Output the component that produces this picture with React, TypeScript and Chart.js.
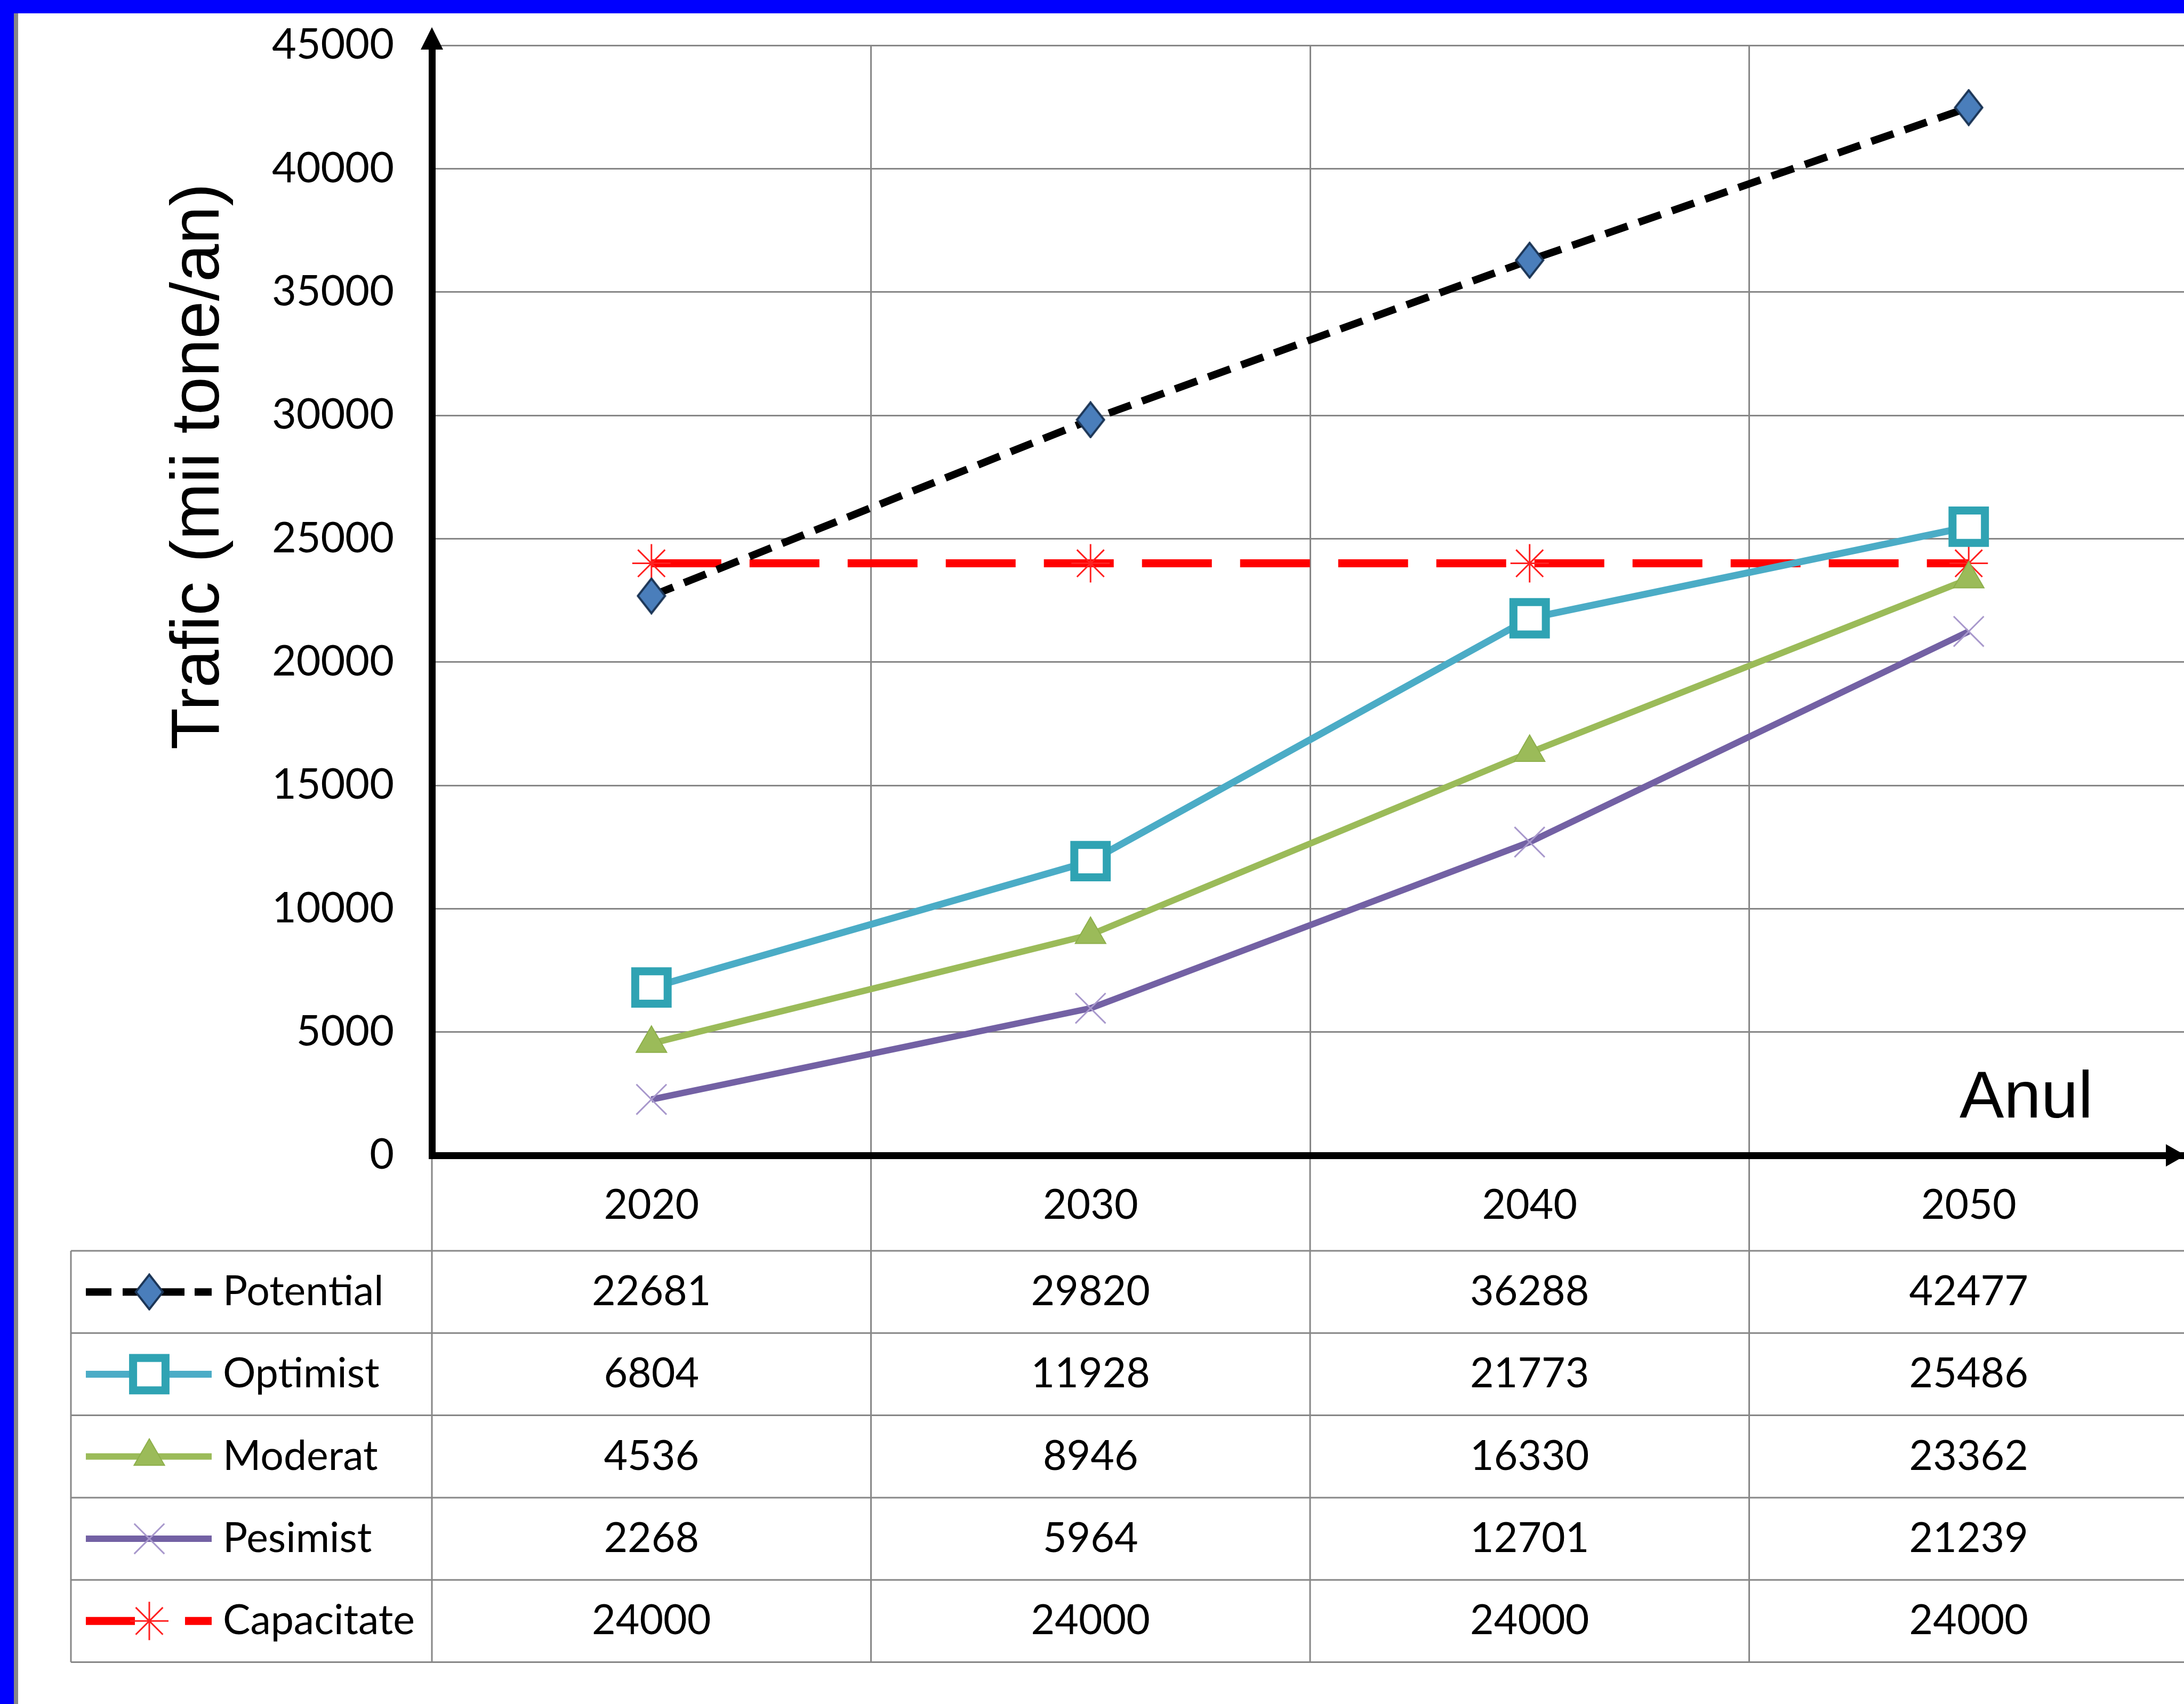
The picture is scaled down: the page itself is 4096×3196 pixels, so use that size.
import React, { useEffect, useRef } from 'react';
import { Chart, registerables } from 'chart.js';
import { drawPoint } from 'chart.js/helpers';

Chart.register(...registerables);

// ---------------- data ----------------
const years = ['2020', '2030', '2040', '2050'];
const potential = [22681, 29820, 36288, 42477];
const optimist = [6804, 11928, 21773, 25486];
const moderat = [4536, 8946, 16330, 23362];
const pesimist = [2268, 5964, 12701, 21239];
const capacitate = [24000, 24000, 24000, 24000];
const seriesNames = ['Potential', 'Optimist', 'Moderat', 'Pesimist', 'Capacitate'];
const yTicks = [0, 5000, 10000, 15000, 20000, 25000, 30000, 35000, 40000, 45000];
const yTitle = 'Trafic (mii tone/an)';
const xTitle = 'Anul';

// ---------------- layout / style ----------------
const W = 4096;
const H = 3196;
const CANVAS_W = 4104;
const AREA_LEFT = 810;
const AREA_TOP = 85;
const AREA_BOTTOM = 2167;
const GRID = '#878787';
const TICK_FONT = 'Lato';
const TITLE_FONT = '"Liberation Sans", Arial, sans-serif';
const TABLE_LEFT = 133;
const TABLE_TOP_OFF = 179;
const ROW_H = 154.3;
const LEG_X0 = 161;
const LEG_X1 = 397;
const LEG_MARK = 280;
const LEG_TEXT = 418;

function makeDiamond(): HTMLCanvasElement {
  const c = document.createElement('canvas');
  const w = 56;
  const h = 70;
  c.width = w;
  c.height = h;
  const g = c.getContext('2d')!;
  g.beginPath();
  g.moveTo(w / 2, 2.5);
  g.lineTo(w - 2.5, h / 2);
  g.lineTo(w / 2, h - 2.5);
  g.lineTo(2.5, h / 2);
  g.closePath();
  g.fillStyle = '#4A7EBB';
  g.fill();
  g.lineWidth = 4;
  g.strokeStyle = '#1B3556';
  g.stroke();
  return c;
}

const legendSegments: number[][][] = [
  [[161, 209], [230, 346], [365, 397]],
  [[LEG_X0, LEG_X1]],
  [[LEG_X0, LEG_X1]],
  [[LEG_X0, LEG_X1]],
  [[161, 253], [347, 397]],
];

const tablePlugin = {
  id: 'tableAndAxes',
  afterDraw(chart: any) {
    const { ctx, chartArea: ca } = chart;
    const xs = chart.scales.x;
    const half = (xs.getPixelForValue(1) - xs.getPixelForValue(0)) / 2;
    const top = ca.bottom + TABLE_TOP_OFF;
    const bottom = top + ROW_H * seriesNames.length;
    const seriesData = [potential, optimist, moderat, pesimist, capacitate];
    ctx.save();

    // table grid
    ctx.strokeStyle = GRID;
    ctx.lineWidth = 3;
    ctx.beginPath();
    const bounds = years.map((_, i) => xs.getPixelForValue(i) - half);
    bounds.push(xs.getPixelForValue(years.length - 1) + half);
    bounds.forEach((x) => {
      ctx.moveTo(x, ca.bottom + 7);
      ctx.lineTo(x, bottom);
    });
    for (let k = 0; k <= seriesNames.length; k++) {
      const y = top + k * ROW_H;
      ctx.moveTo(TABLE_LEFT, y);
      ctx.lineTo(chart.width, y);
    }
    ctx.moveTo(TABLE_LEFT, top);
    ctx.lineTo(TABLE_LEFT, bottom);
    ctx.stroke();

    // legend keys + values
    seriesNames.forEach((name, i) => {
      const ds = chart.data.datasets[i];
      const cy = top + ROW_H * (i + 0.5);
      ctx.strokeStyle = ds.borderColor;
      ctx.lineWidth = ds.borderWidth;
      ctx.lineCap = 'butt';
      ctx.beginPath();
      legendSegments[i].forEach(([a, b]) => {
        ctx.moveTo(a, cy);
        ctx.lineTo(b, cy);
      });
      ctx.stroke();
      ctx.fillStyle = ds.pointBackgroundColor || ds.borderColor;
      ctx.strokeStyle = ds.pointBorderColor || ds.borderColor;
      ctx.lineWidth = ds.pointBorderWidth || 1;
      drawPoint(ctx, {
        pointStyle: ds.pointStyle,
        radius: ds.pointRadius,
        rotation: 0,
        borderWidth: ds.pointBorderWidth || 1,
      } as any, LEG_MARK, cy);

      ctx.fillStyle = '#000';
      ctx.font = `77px ${TICK_FONT}`;
      ctx.textBaseline = 'middle';
      ctx.textAlign = 'left';
      ctx.fillText(name, LEG_TEXT, cy);
      ctx.textAlign = 'center';
      seriesData[i].forEach((v, j) => {
        ctx.fillText(String(v), xs.getPixelForValue(j), cy);
      });
    });

    // axis arrow heads
    ctx.fillStyle = '#000';
    ctx.beginPath();
    ctx.moveTo(4062, ca.bottom - 21);
    ctx.lineTo(4099, ca.bottom);
    ctx.lineTo(4062, ca.bottom + 21);
    ctx.closePath();
    ctx.fill();
    ctx.beginPath();
    ctx.moveTo(ca.left - 21, 93);
    ctx.lineTo(ca.left, 51);
    ctx.lineTo(ca.left + 21, 93);
    ctx.closePath();
    ctx.fill();
    if (ca.top > 88) ctx.fillRect(ca.left - 6.5, 88, 13, ca.top - 86);

    // axis titles
    ctx.fillStyle = '#000';
    ctx.font = `128px ${TITLE_FONT}`;
    ctx.textBaseline = 'alphabetic';
    ctx.textAlign = 'center';
    ctx.save();
    ctx.translate(410, 875);
    ctx.rotate(-Math.PI / 2);
    ctx.fillText(yTitle, 0, 0);
    ctx.restore();
    ctx.font = `125px ${TITLE_FONT}`;
    ctx.textAlign = 'left';
    ctx.fillText(xTitle, 3675, 2096);

    ctx.restore();
  },
};

export default function App() {
  const ref = useRef<HTMLCanvasElement | null>(null);

  useEffect(() => {
    let chart: Chart | null = null;
    let cancelled = false;
    const build = () => {
      if (cancelled || !ref.current) return;
      const diamond = makeDiamond();
      chart = new Chart(ref.current, {
        type: 'line',
        data: {
          labels: years,
          datasets: [
            {
              label: seriesNames[0],
              data: potential,
              borderColor: '#000000',
              borderWidth: 14,
              borderDash: [44, 22],
              pointStyle: diamond as any,
              pointRadius: 28,
              pointBackgroundColor: '#4A7EBB',
              pointBorderColor: '#1B3556',
              pointBorderWidth: 1,
            },
            {
              label: seriesNames[1],
              data: optimist,
              borderColor: '#4BACC6',
              borderWidth: 13,
              pointStyle: 'rect',
              pointRadius: 43,
              pointBackgroundColor: '#FFFFFF',
              pointBorderColor: '#2FA3B3',
              pointBorderWidth: 15,
            },
            {
              label: seriesNames[2],
              data: moderat,
              borderColor: '#9BBB59',
              borderWidth: 12,
              pointStyle: 'triangle',
              pointRadius: 33,
              pointBackgroundColor: '#9BBB59',
              pointBorderColor: '#8DAF4A',
              pointBorderWidth: 2,
            },
            {
              label: seriesNames[3],
              data: pesimist,
              borderColor: '#7361A4',
              borderWidth: 12,
              pointStyle: 'crossRot',
              pointRadius: 40,
              pointBackgroundColor: '#A898CC',
              pointBorderColor: '#A898CC',
              pointBorderWidth: 3,
            },
            {
              label: seriesNames[4],
              data: capacitate,
              borderColor: '#FF0000',
              borderWidth: 15,
              borderDash: [131, 53],
              pointStyle: 'star',
              pointRadius: 36,
              pointBackgroundColor: '#FF2020',
              pointBorderColor: '#FF2020',
              pointBorderWidth: 3,
            },
          ],
        },
        options: {
          responsive: false,
          animation: false,
          devicePixelRatio: 1,
          layout: {
            autoPadding: false,
            padding: { top: AREA_TOP, left: 0, right: 0, bottom: 0 },
          },
          plugins: {
            legend: { display: false },
            title: { display: false },
            tooltip: { enabled: false },
          },
          scales: {
            x: {
              type: 'category',
              offset: true,
              grid: {
                offset: true,
                color: GRID,
                lineWidth: 3,
                drawTicks: true,
                tickLength: 56,
                tickColor: 'rgba(0,0,0,0)',
              },
              border: { display: true, color: '#000000', width: 13 },
              ticks: {
                font: { family: TICK_FONT, size: 77, lineHeight: 1 },
                color: '#000000',
                padding: 0,
                maxRotation: 0,
                autoSkip: false,
              },
              afterFit(s: any) {
                s.height = H - AREA_BOTTOM;
                s.paddingLeft = 0;
                s.paddingRight = 0;
              },
            },
            y: {
              min: 0,
              max: 45000,
              grid: {
                color: GRID,
                lineWidth: 3,
                drawTicks: true,
                tickLength: 71,
                tickColor: 'rgba(0,0,0,0)',
              },
              border: { display: true, color: '#000000', width: 13 },
              afterBuildTicks(s: any) {
                s.ticks = yTicks.map((v) => ({ value: v }));
              },
              ticks: {
                font: { family: TICK_FONT, size: 79, lineHeight: 1 },
                color: '#000000',
                padding: 0,
                callback: (v: any) => String(v),
              },
              afterFit(s: any) {
                s.width = AREA_LEFT;
                s.paddingTop = 0;
                s.paddingBottom = 0;
              },
            },
          },
        },
        plugins: [tablePlugin],
      });
    };
    const fontsApi: any = (document as any).fonts;
    if (fontsApi && fontsApi.load) {
      Promise.all([
        fontsApi.load(`77px ${TICK_FONT}`),
        fontsApi.load(`128px "Liberation Sans"`),
      ])
        .catch(() => null)
        .then(build);
    } else {
      build();
    }
    return () => {
      cancelled = true;
      if (chart) chart.destroy();
    };
  }, []);

  return (
    <div
      style={{
        position: 'fixed',
        left: 0,
        top: 0,
        width: W,
        height: H,
        overflow: 'hidden',
        background: '#ffffff',
      }}
    >
      <canvas
        ref={ref}
        width={CANVAS_W}
        height={H}
        style={{ position: 'absolute', left: 0, top: 0, width: CANVAS_W, height: H }}
      />
      <div style={{ position: 'absolute', left: 0, top: 0, width: W, height: 25, background: '#0000FF' }} />
      <div style={{ position: 'absolute', left: 0, top: 0, width: 26, height: H, background: '#0000FF' }} />
      <div style={{ position: 'absolute', left: 26, top: 25, width: 8, height: H - 25, background: '#888888' }} />
    </div>
  );
}
